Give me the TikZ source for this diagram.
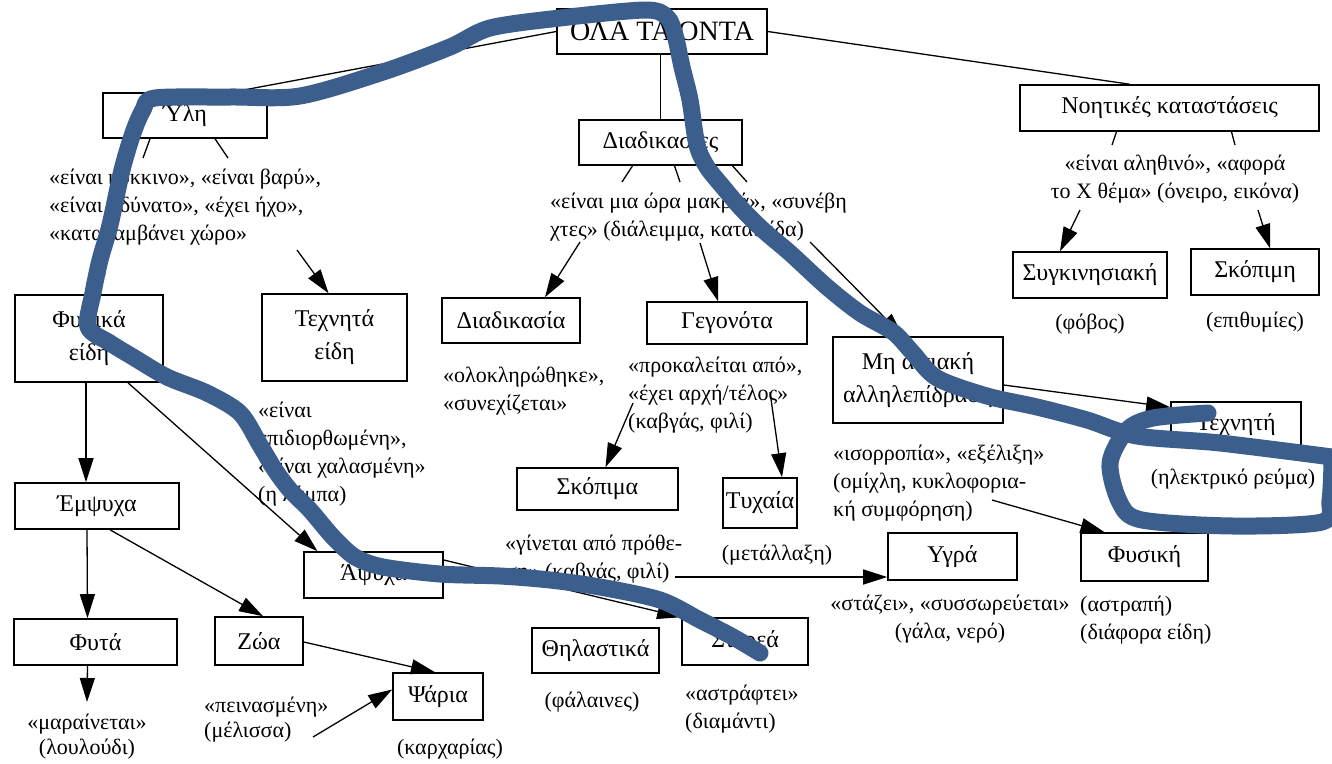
\documentclass[tikz,border=0pt]{standalone}
\usepackage{fontspec}
\setmainfont{Liberation Serif}
\usetikzlibrary{arrows.meta}
\definecolor{marker}{RGB}{59,94,140}
\begin{document}
\begin{tikzpicture}[x=1pt,y=-1pt,
  box/.style={draw, line width=1.6pt, inner sep=0pt, align=center,
              font=\fontsize{24}{33}\selectfont},
  txt/.style={inner sep=0pt, font=\fontsize{22}{28}\selectfont},
  tight/.style={font=\fontsize{22}{25}\selectfont},
  link/.style={line width=1.3pt},
  arr/.style={line width=1.3pt, -{Triangle[length=24pt,width=15pt]}},
  marker/.style={draw=marker, line width=17pt, line cap=round, line join=round}
]
\fill[white] (0,0) rectangle (1332,763);
\useasboundingbox (0,0) rectangle (1332,763);

% ---------- boxes ----------
\node[box, minimum width=210pt, minimum height=45pt, font=\fontsize{28}{32}\selectfont] (ola) at (662,31.5) {ΟΛΑ ΤΑ ΟΝΤΑ};
\node[box, minimum width=164pt, minimum height=45pt] (yli) at (185,115.5) {Ύλη};
\node[box, minimum width=163pt, minimum height=45pt] (diad) at (660.5,142.5) {Διαδικασίες};
\node[box, minimum width=299pt, minimum height=46pt] (noit) at (1169.5,108) {Νοητικές καταστάσεις};
\node[box, minimum width=154pt, minimum height=46pt] (sygk) at (1090,275) {Συγκινησιακή};
\node[box, minimum width=128pt, minimum height=46pt] (skopimi) at (1255,272) {Σκόπιμη};
\node[box, minimum width=148pt, minimum height=87pt] (fysika) at (89,338.5) {Φυσικά\\είδη};
\node[box, minimum width=145pt, minimum height=87pt] (techneidi) at (334.5,337.5) {Τεχνητά\\είδη};
\node[box, minimum width=138pt, minimum height=45pt] (diadikasia) at (511,320.5) {Διαδικασία};
\node[box, minimum width=160pt, minimum height=42pt] (gegonota) at (727,323) {Γεγονότα};
\node[box, minimum width=161pt, minimum height=42pt] (skopima) at (597.5,489) {Σκόπιμα};
\node[box, minimum width=74pt, minimum height=50pt] (tyxaia) at (760,503) {Τυχαία};
\node[box, minimum width=170pt, minimum height=86pt] (mi) at (918,380) {Μη αιτιακή\\αλληλεπίδραση};
\node[box, minimum width=130pt, minimum height=45pt] (techniti) at (1236,424.5) {Τεχνητή};
\node[box, minimum width=127pt, minimum height=48pt] (fysiki) at (1144.5,557) {Φυσική};
\node[box, minimum width=129pt, minimum height=47pt] (ygra) at (952.5,556.5) {Υγρά};
\node[box, minimum width=126pt, minimum height=47pt] (sterea) at (745,641.5) {Στερεά};
\node[box, minimum width=127pt, minimum height=45pt] (thil) at (595.5,650.5) {Θηλαστικά};
\node[box, minimum width=139pt, minimum height=46pt] (apsyxa) at (373.5,575) {Άψυχα};
\node[box, minimum width=164pt, minimum height=46pt] (empsyxa) at (97,506) {Έμψυχα};
\node[box, minimum width=163pt, minimum height=46pt] (fyta) at (95.5,642) {Φυτά};
\node[box, minimum width=88pt, minimum height=48pt] (zoa) at (259,641) {Ζώα};
\node[box, minimum width=90pt, minimum height=47pt] (psaria) at (438,696.5) {Ψάρια};

% ---------- descriptions (base = baseline of the last line) ----------
\node[txt, anchor=base west, align=left] (ylit) at (49,240) {«είναι κόκκινο», «είναι βαρύ»,\\«είναι αδύνατο», «έχει ήχο»,\\«καταλαμβάνει χώρο»};
\node[txt, anchor=base west, align=left] (diadt) at (550,236) {«είναι μια ώρα μακριά», «συνέβη\\χτες» (διάλειμμα, καταιγίδα)};
\node[txt, anchor=base, align=center] (noitt) at (1175,198) {«είναι αληθινό», «αφορά\\το Χ θέμα» (όνειρο, εικόνα)};
\node[txt, anchor=base] (sygkt) at (1090,329) {(φόβος)};
\node[txt, anchor=base] (skopimit) at (1255,327) {(επιθυμίες)};
\node[txt, anchor=base west, align=left] (diadikasiat) at (443,410) {«ολοκληρώθηκε»,\\«συνεχίζεται»};
\node[txt, anchor=base west, align=left] (gegonotat) at (628,428) {«προκαλείται από»,\\«έχει αρχή/τέλος»\\(καβγάς, φιλί)};
\node[txt, anchor=base west, align=left] (fysikat) at (258,501) {«είναι\\επιδιορθωμένη»,\\«είναι χαλασμένη»\\(η λάμπα)};
\node[txt, anchor=base west, align=left] (mit) at (833,516) {«ισορροπία», «εξέλιξη»\\(ομίχλη, κυκλοφορια-\\κή συμφόρηση)};
\node[txt, anchor=base] (technitit) at (1233,484) {(ηλεκτρικό ρεύμα)};
\node[txt, anchor=base west, align=left] (skopimat) at (505,578) {«γίνεται από πρόθε-\\ση» (καβγάς, φιλί)};
\node[txt, anchor=base] (tyxaiat) at (777,560) {(μετάλλαξη)};
\node[txt, anchor=base, align=center] (ygrat) at (950,638) {«στάζει», «συσσωρεύεται»\\(γάλα, νερό)};
\node[txt, anchor=base west, align=left] (fysikit) at (1080,639) {(αστραπή)\\(διάφορα είδη)};
\node[txt, anchor=base] (thilt) at (592,707) {(φάλαινες)};
\node[txt, anchor=base west, align=left] (stereat) at (685,728) {«αστράφτει»\\(διαμάντι)};
\node[txt, tight, anchor=base, align=center] (fytat) at (87,754) {«μαραίνεται»\\(λουλούδι)};
\node[txt, tight, anchor=base west, align=left] (zoat) at (204,737) {«πεινασμένη»\\(μέλισσα)};
\node[txt, anchor=base] (psariat) at (450,754) {(καρχαρίας)};

% ---------- free ends of connectors ----------
\coordinate (ylA) at (143,158);
\coordinate (ylB) at (228,158);
\coordinate (ylC) at (105,255);
\coordinate (ylD) at (297,250);
\coordinate (diA) at (622,182);
\coordinate (diB) at (680,182);
\coordinate (diC) at (747,182);
\coordinate (diD) at (580,242);
\coordinate (diE) at (700,243);
\coordinate (diF) at (810,242);
\coordinate (noA) at (1112,145);
\coordinate (noB) at (1235,145);
\coordinate (noC) at (1080,210);
\coordinate (noD) at (1258,210);
\coordinate (geA) at (633,403);
\coordinate (geB) at (770,392);
\coordinate (skA) at (675,577);
\coordinate (miA) at (992,500);
\coordinate (fyA) at (87,702);
\coordinate (psA) at (313,737);

% ---------- connectors ----------
\draw[link] (ola.west) -- ([xshift=47pt]yli.north);
\draw[link] (ola.east) -- ([xshift=-40pt]noit.north);
\draw[link] ([xshift=-1.5pt]ola.south) -- (diad.north);

\draw[link] ([xshift=-35pt]yli.south) -- (ylA);
\draw[link] ([xshift=30pt]yli.south) -- (ylB);
\draw[arr] (ylC) -- ([xshift=1pt]fysika.north);
\draw[arr] (ylD) -- ([xshift=-6pt]techneidi.north);

\draw[link] ([xshift=-28pt]diad.south) -- (diA);
\draw[link] ([xshift=14pt]diad.south) -- (diB);
\draw[link] ([xshift=72pt]diad.south) -- (diC);
\draw[arr] (diD) -- ([xshift=34pt]diadikasia.north);
\draw[arr] (diE) -- ([xshift=-9pt]gegonota.north);
\draw[arr] (diF) -- ([xshift=-15pt]mi.north);

\draw[link] ([xshift=-53pt]noit.south) -- (noA);
\draw[link] ([xshift=62pt]noit.south) -- (noB);
\draw[arr] (noC) -- ([xshift=-30pt]sygk.north);
\draw[arr] (noD) -- ([xshift=15pt]skopimi.north);

\draw[arr] ([xshift=-3pt]fysika.south) -- ([xshift=-11pt]empsyxa.north);
\draw[arr] ([xshift=39pt]fysika.south) -- ([xshift=-56pt]apsyxa.north);
\draw[arr] ([xshift=-10pt]empsyxa.south) -- ([xshift=-8pt]fyta.north);
\draw[arr] ([xshift=13pt]empsyxa.south) -- ([xshift=4pt]zoa.north);
\draw[arr] ([yshift=-1pt]zoa.east) -- ([xshift=-3pt]psaria.north);
\draw[arr] (psA) -- ([yshift=7pt]psaria.west);
\draw[arr] ([xshift=-8pt]fyta.south) -- (fyA);
\draw[arr] ([yshift=15pt]apsyxa.east) -- (sterea.north west);

\draw[arr] (geA) -- ([xshift=8pt]skopima.north);
\draw[arr] (geB) -- ([xshift=22pt]tyxaia.north);
\draw[arr] (skA) -- (ygra.west |- skA);
\draw[arr] ([yshift=-5pt]mi.east) -- ([yshift=-6pt]techniti.north west);
\draw[arr] (miA) -- ([xshift=-40pt]fysiki.north);

% ---------- hand-drawn marker strokes ----------
\draw[marker] plot[smooth, tension=0.5] coordinates {
  (760,653) (733,637) (700,620) (660,600) (600,587) (550,580) (500,576)
  (440,574) (383,567) (355,557) (333,537) (310,510) (290,490) (275,470)
  (260,445) (240,413) (207,393) (167,377) (133,357) (110,343) (88,327)
  (93,293) (100,260) (110,225) (122,170) (133,133) (143,110) (155,98)
  (230,97) (300,96) (383,72) (450,47) (490,28) (560,18) (645,10)
  (667,17) (675,35) (682,67) (690,100) (697,145) (707,167) (723,187)
  (740,207) (763,230) (790,253) (827,287) (860,313) (893,332) (912,352)
  (937,378) (987,396) (1037,407) (1087,420) (1137,436) (1220,443) (1332,457)};
\draw[marker] plot[smooth, tension=0.5] coordinates {
  (1208,413) (1153,418) (1127,430) (1110,463) (1120,503) (1142,520)
  (1233,526) (1322,522) (1330,500) (1332,462)};
\end{tikzpicture}
\end{document}
